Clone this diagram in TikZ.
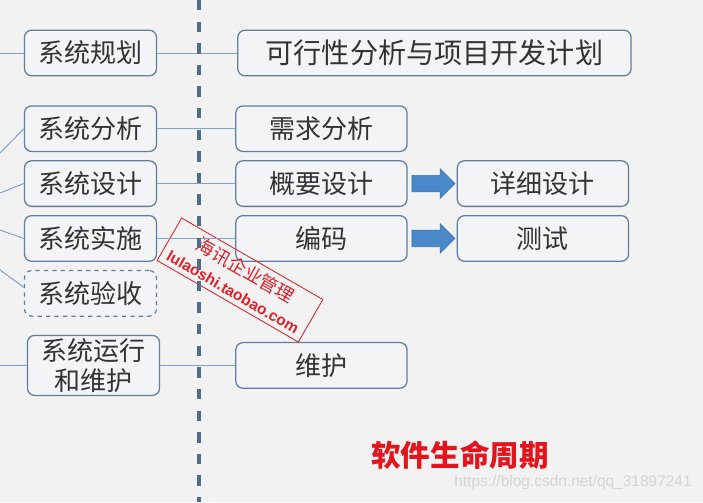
\documentclass[tikz,border=0pt]{standalone}
\usepackage{fontspec}
\setmainfont{Noto Sans CJK SC}
\setsansfont{Liberation Sans}
\usepackage{tikz}
\usetikzlibrary{shapes.arrows, positioning}

\definecolor{bgcolor}{HTML}{F2F2F2}
\definecolor{boxfill}{HTML}{F3F4F6}
\definecolor{boxedge}{HTML}{5F7FA0}
\definecolor{linkblue}{HTML}{7FA3C7}
\definecolor{divblue}{HTML}{4D6D8D}
\definecolor{arrowblue}{HTML}{4A89C9}
\definecolor{arrowedge}{HTML}{3F74AA}
\definecolor{textgray}{HTML}{333333}
\definecolor{stampred}{HTML}{E0202A}
\definecolor{titlered}{HTML}{E3141B}

\begin{document}
\begin{tikzpicture}[
        x=0.025cm, y=-0.025cm,
        stage/.style={rectangle, draw=boxedge, line width=0.9pt, rounded corners=1.8mm, fill=boxfill, text=textgray, text centered, minimum width=3.3cm, minimum height=1.14cm, inner sep=0pt, font=\fontsize{18.5}{22}\selectfont},
        task/.style={stage, minimum width=4.28cm},
        wide/.style={stage, minimum width=9.83cm, font=\fontsize{20}{24}\selectfont},
        blockarrow/.style={single arrow, draw=arrowedge, line width=0.4pt, fill=arrowblue, minimum height=1.075cm, inner xsep=0pt, inner ysep=0.2cm, single arrow head extend=0.1625cm, single arrow head indent=0pt},
        link/.style={draw=linkblue, line width=0.7pt},
        divider/.style={draw=divblue, line width=2.2pt, dash pattern=on 0.26cm off 0.28cm}
    ]
        \fill[bgcolor] (0,0) rectangle (703,502);
        \useasboundingbox (0,0) rectangle (703,502);

        % phases on the left
        \node[stage] (plan) at (90.5,53) {系统规划};
        \node[stage, below=0.72cm of plan] (analysis) {系统分析};
        \node[stage, below=0.2cm of analysis] (design) {系统设计};
        \node[stage, below=0.2cm of design] (impl) {系统实施};
        \node[stage, dashed, below=0.2cm of impl] (check) {系统验收};
        \node[stage, align=center, minimum height=1.5cm, font=\fontsize{18.5}{21.5}\selectfont, below=0.45cm of check, xshift=0.075cm] (run) {系统运行\\和维护};

        % tasks on the right
        \node[wide, right=2cm of plan] (feas) {可行性分析与项目开发计划};
        \node[task, right=1.95cm of analysis] (req) {需求分析};
        \node[task, right=1.95cm of design] (outline) {概要设计};
        \node[task, right=1.95cm of impl] (coding) {编码};
        \node[task, right=1.875cm of run] (maint) {维护};
        \node[task, right=1.225cm of outline] (detail) {详细设计};
        \node[task, right=1.225cm of coding] (test) {测试};

        \node[blockarrow, right=0.1cm of outline] (go1) {};
        \node[blockarrow, right=0.1cm of coding] (go2) {};

        \node[text=titlered, font=\fontsize{21}{25}\selectfont\bfseries] (title) at (460,455) {软件生命周期};

        % stamp and site mark
        \node[draw=stampred, line width=0.6pt, text=stampred, rotate=-30, minimum width=4.075cm, minimum height=1.225cm, inner sep=0pt, align=center] (stamp) at (240,280)
            {{\fontsize{13}{15}\selectfont 海讯企业管理}\\[5pt]{\sffamily\bfseries\fontsize{11}{13}\selectfont lulaoshi.taobao.com}};
        \node[text=black!17, font=\sffamily\fontsize{11}{13}\selectfont] (mark) at (573,482) {https://blog.csdn.net/qq\_31897241};

        % free ends and divider
        \coordinate (in0) at (0,53);
        \coordinate (in1) at (0,153);
        \coordinate (in2) at (0,193);
        \coordinate (in3) at (0,230);
        \coordinate (in4) at (0,270);
        \coordinate (in5) at (0,365.5);
        \coordinate (divtop) at (199,0);
        \coordinate (divbot) at (199,502);

        \draw[link] (in0) -- (plan);
        \draw[link] (in1) -- (analysis.west);
        \draw[link] (in2) -- (design.west);
        \draw[link] (in3) -- (impl.west);
        \draw[link] (in4) -- ([yshift=0.15cm]check.west);
        \draw[link] (in5) -- (run);

        \draw[link] (plan) -- (feas);
        \draw[link] (analysis) -- (req);
        \draw[link] (design) -- (outline);
        \draw[link] (impl) -- (coding);
        \draw[link] (run) -- (maint);

        \draw[divider] (divtop) -- (divbot);
    \end{tikzpicture}
\end{document}
